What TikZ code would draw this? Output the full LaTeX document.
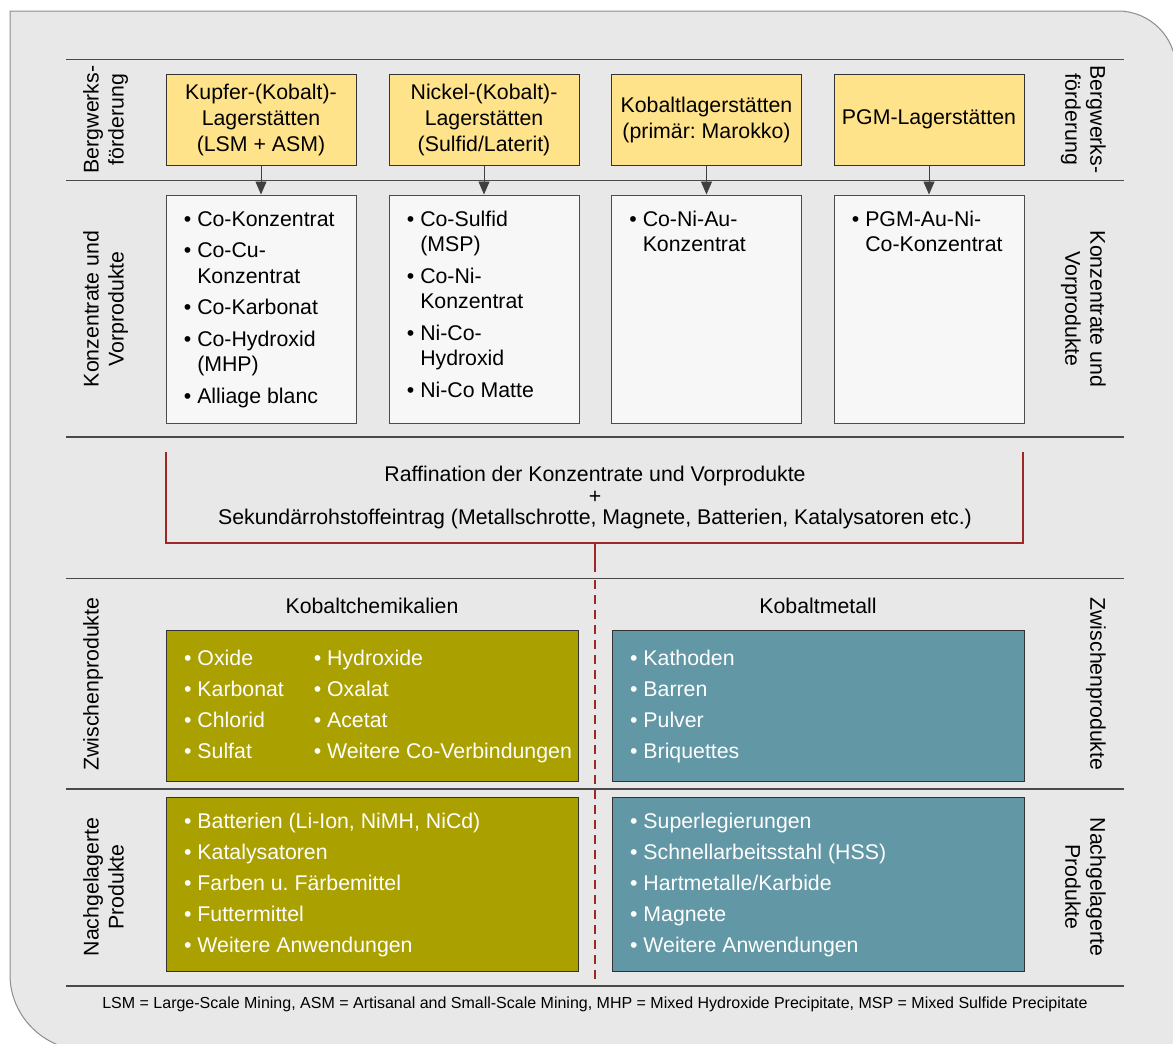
\documentclass[tikz,border=0pt]{standalone}
\usepackage{fontspec}
\setmainfont{Liberation Sans}
\usetikzlibrary{arrows.meta,calc}

\definecolor{panel}{HTML}{E8E8E8}
\definecolor{panelrim}{HTML}{8C8C8C}
\definecolor{rulegray}{HTML}{4A4A4A}
\definecolor{mine}{HTML}{FFE38A}
\definecolor{conc}{HTML}{F7F7F7}
\definecolor{chem}{RGB}{170,160,0}
\definecolor{metal}{RGB}{98,151,166}
\definecolor{refine}{RGB}{158,40,40}

\tikzset{
  sepline/.style={draw=rulegray, line width=1.2pt},
  minebox/.style={draw=black!80, fill=mine, line width=1pt, minimum width=190pt,
    minimum height=91pt, inner sep=0pt, align=center, font=\fontsize{21.3}{26}\selectfont},
  concbox/.style={draw=black!70, fill=conc, line width=1pt, minimum width=190pt,
    minimum height=228pt, inner sep=0pt},
  conclist/.style={anchor=north west, inner sep=0pt, font=\fontsize{21.3}{25.5}\selectfont},
  chembox/.style={draw=black!80, fill=chem, line width=1pt, minimum width=412pt, inner sep=0pt},
  metalbox/.style={draw=black!80, fill=metal, line width=1pt, minimum width=412pt, inner sep=0pt},
  prodlist/.style={anchor=west, inner sep=0pt, text=white, font=\fontsize{21.3}{31}\selectfont},
  feed/.style={draw=black!75, line width=0.9pt, -{Triangle[width=11pt,length=13pt]}},
  refline/.style={draw=refine, line width=2.3pt},
  sidelabel/.style={inner sep=0pt, align=center, font=\fontsize{21.3}{25}\selectfont},
  heading/.style={inner sep=0pt, anchor=base, font=\fontsize{21.3}{25}\selectfont},
}

\begin{document}
\frenchspacing
\begin{tikzpicture}[x=1pt,y=-1pt]
\useasboundingbox (0,0) rectangle (1173,1044);
\clip (0,0) rectangle (1173,1044);

% background panel with two rounded corners
\filldraw[fill=panel, draw=panelrim, line width=1pt]
  (10,11) -- (1118,11) .. controls (1150,11) and (1176,37) .. (1176,69)
  -- (1176,1050) -- (85,1050) .. controls (44,1050) and (10,1016) .. (10,975) -- cycle;

% section separators
\foreach \yy in {59.5,180.5,437,578.5,789,986}
  \draw[sepline] (66,\yy) -- (1124,\yy);

% deposits
\node[minebox] (m1) at (261,119.5) {Kupfer-(Kobalt)-\\Lagerstätten\\(LSM + ASM)};
\node[minebox] (m2) at (484,119.5) {Nickel-(Kobalt)-\\Lagerstätten\\(Sulfid/Laterit)};
\node[minebox] (m3) at (706.5,119.5) {Kobaltlagerstätten\\(primär: Marokko)};
\node[minebox] (m4) at (929,119.5) {PGM-Lagerstätten};

% concentrates
\node[concbox] (c1) at (261,309) {};
\node[concbox] (c2) at (484,309) {};
\node[concbox] (c3) at (706.5,309) {};
\node[concbox] (c4) at (929,309) {};

\foreach \i in {1,...,4} \draw[feed] (m\i) -- (c\i);

\node[conclist] (l1) at ($(c1.north west)+(18.2,13.6)$) {%
  \begin{tabular}{@{}l@{\ }l@{}}
  •&Co-Konzentrat\\[6pt]
  •&Co-Cu-\\
   &Konzentrat\\[6pt]
  •&Co-Karbonat\\[6pt]
  •&Co-Hydroxid\\
   &(MHP)\\[6pt]
  •&Alliage blanc
  \end{tabular}};
\node[conclist] (l2) at ($(c2.north west)+(18.2,13.6)$) {%
  \begin{tabular}{@{}l@{\ }l@{}}
  •&Co-Sulfid\\
   &(MSP)\\[6pt]
  •&Co-Ni-\\
   &Konzentrat\\[6pt]
  •&Ni-Co-\\
   &Hydroxid\\[6pt]
  •&Ni-Co Matte
  \end{tabular}};
\node[conclist] (l3) at ($(c3.north west)+(18.2,13.6)$) {%
  \begin{tabular}{@{}l@{\ }l@{}}
  •&Co-Ni-Au-\\
   &Konzentrat
  \end{tabular}};
\node[conclist] (l4) at ($(c4.north west)+(18.2,13.6)$) {%
  \begin{tabular}{@{}l@{\ }l@{}}
  •&PGM-Au-Ni-\\
   &Co-Konzentrat
  \end{tabular}};

% refining bracket
\coordinate (bl) at (166,452);
\coordinate (br) at (1023,452);
\coordinate (fork) at (595,543);
\coordinate (split) at (595,572);
\coordinate (dstart) at (595,580);
\coordinate (foot) at (595,985);
\draw[refline] (bl) |- (fork) -| (br);
\draw[refline] (fork) -- (split);
\draw[draw=refine, line width=2pt, dash pattern=on 9pt off 6pt] (dstart) -- (foot);

\node[sidelabel, font=\fontsize{21.3}{21.3}\selectfont] (ref) at (595,497.5)
  {Raffination der Konzentrate und Vorprodukte\\+\\Sekundärrohstoffeintrag (Metallschrotte, Magnete, Batterien, Katalysatoren etc.)};

% intermediate and downstream products
\node[heading] (h1) at (372,613.3) {Kobaltchemikalien};
\node[heading] (h2) at (818,613.3) {Kobaltmetall};

\node[chembox, minimum height=151pt] (k1) at (372,705.5) {};
\node[metalbox, minimum height=151pt] (k2) at (818,705.5) {};
\node[chembox, minimum height=174pt] (k3) at (372,884) {};
\node[metalbox, minimum height=174pt] (k4) at (818,884) {};

\node[prodlist] (p1) at ($(k1.west)+(18.4,0)$) {%
  \begin{tabular}{@{}p{129.7pt}@{}l@{}}
  • Oxide & • Hydroxide\\
  • Karbonat & • Oxalat\\
  • Chlorid & • Acetat\\
  • Sulfat & • Weitere Co-Verbindungen
  \end{tabular}};
\node[prodlist] (p2) at ($(k2.west)+(18.4,0)$) {%
  \begin{tabular}{@{}l@{}}
  • Kathoden\\
  • Barren\\
  • Pulver\\
  • Briquettes
  \end{tabular}};
\node[prodlist] (p3) at ($(k3.west)+(18.4,0)$) {%
  \begin{tabular}{@{}l@{}}
  • Batterien (Li-Ion, NiMH, NiCd)\\
  • Katalysatoren\\
  • Farben u. Färbemittel\\
  • Futtermittel\\
  • Weitere Anwendungen
  \end{tabular}};
\node[prodlist] (p4) at ($(k4.west)+(18.4,0)$) {%
  \begin{tabular}{@{}l@{}}
  • Superlegierungen\\
  • Schnellarbeitsstahl (HSS)\\
  • Hartmetalle/Karbide\\
  • Magnete\\
  • Weitere Anwendungen
  \end{tabular}};

% row labels
\node[sidelabel, rotate=90, anchor=north] (sl1) at (83,119.5) {Bergwerks-\\förderung};
\node[sidelabel, rotate=90, anchor=north] (sl2) at (83,309) {Konzentrate und\\Vorprodukte};
\node[sidelabel, rotate=90, anchor=north] (sl3) at (83,684) {Zwischenprodukte};
\node[sidelabel, rotate=90, anchor=north] (sl4) at (83,887) {Nachgelagerte\\Produkte};
\node[sidelabel, rotate=-90, anchor=north] (sr1) at (1106,119.5) {Bergwerks-\\förderung};
\node[sidelabel, rotate=-90, anchor=north] (sr2) at (1106,309) {Konzentrate und\\Vorprodukte};
\node[sidelabel, rotate=-90, anchor=north] (sr3) at (1106,684) {Zwischenprodukte};
\node[sidelabel, rotate=-90, anchor=north] (sr4) at (1106,887) {Nachgelagerte\\Produkte};

% abbreviations
\node[heading, font=\fontsize{16}{18}\selectfont] (note) at (595,1008.3)
  {LSM = Large-Scale Mining, ASM = Artisanal and Small-Scale Mining, MHP = Mixed Hydroxide Precipitate, MSP = Mixed Sulfide Precipitate};
\end{tikzpicture}
\end{document}
